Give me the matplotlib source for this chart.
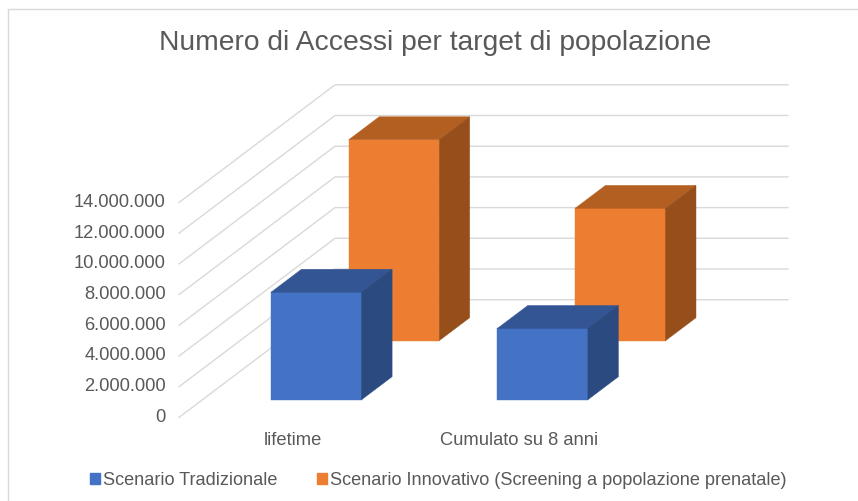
import matplotlib
matplotlib.use("Agg")
from matplotlib import pyplot as plt
from matplotlib.lines import Line2D
from matplotlib.patches import Polygon, Patch
from matplotlib.transforms import ScaledTranslation

categories = ["lifetime", "Cumulato su 8 anni"]
series_names = ["Scenario Tradizionale", "Scenario Innovativo (Screening a popolazione prenatale)"]
tradizionale = [7000000, 4640000]
innovativo = [13090000, 8620000]
ticks = [0, 2000000, 4000000, 6000000, 8000000, 10000000, 12000000, 14000000]

W, H = 858, 502
TOP_Y, BACK_Y, FRONT_Y = 85.7, 300.7, 418.4
LEFT, BACK_X, RIGHT = 179.0, 335.0, 788.0
PX_PER_VALUE = 30.7 / 2000000

plt.rcParams["font.family"] = ["Liberation Sans", "DejaVu Sans"]
GREY = "#595959"
GRID = "#D9D9D9"

fig = plt.figure(figsize=(W / 100, H / 100), dpi=100)
# chart frame, only top and left show in the crop
fig.add_artist(Line2D([7.5 / W, 7.5 / W, 1], [0, 1 - 9.5 / H, 1 - 9.5 / H], color=GRID, lw=1))

ax = fig.add_axes([LEFT / W, 1 - FRONT_Y / H, (RIGHT - LEFT) / W, (FRONT_Y - TOP_Y) / H])
ax.set_xlim(LEFT, RIGHT)
ax.set_ylim(0, (FRONT_Y - TOP_Y) / PX_PER_VALUE)
for s in ax.spines.values():
    s.set_visible(False)
ax.patch.set_visible(False)


def lift(px):
    return px / PX_PER_VALUE


# walls: diagonal on the side, straight on the back
depth_y = FRONT_Y - BACK_Y
for t in ticks:
    ax.plot([LEFT, BACK_X, RIGHT], [t, t + lift(depth_y), t + lift(depth_y)],
            color=GRID, lw=1, zorder=1, solid_joinstyle="miter", clip_on=False)


def draw_bar(x0, x1, base_px, value, front, top, side):
    d = 30.5
    dv = lift(23)
    b = lift(base_px)
    v = b + value
    ax.add_patch(Polygon([(x0, b), (x1, b), (x1, v), (x0, v)], color=front, lw=0.3, zorder=3))
    ax.add_patch(Polygon([(x0, v), (x1, v), (x1 + d, v + dv), (x0 + d, v + dv)], color=top, lw=0.3, zorder=3))
    ax.add_patch(Polygon([(x1, b), (x1 + d, b + dv), (x1 + d, v + dv), (x1, v)], color=side, lw=0.3, zorder=3))


# back row first so the front row covers it
orange_x = [348.7, 575.0]
blue_x = [271.0, 497.3]
for x, val in zip(orange_x, innovativo):
    draw_bar(x, x + 90.5, FRONT_Y - 341.7, val, "#ED7D31", "#B45F22", "#964F1B")
for x, val in zip(blue_x, tradizionale):
    draw_bar(x, x + 90.6, FRONT_Y - 400.7, val, "#4472C4", "#335593", "#2B4A80")

ax.set_yticks(ticks)
ax.set_yticklabels([f"{t:,}".replace(",", ".") for t in ticks], fontsize=13.2, color=GREY)
ax.set_xticks([293, 519])
ax.set_xticklabels(categories, fontsize=13.2, color=GREY)
ax.tick_params(axis="y", length=0, pad=9.5)
ax.tick_params(axis="x", length=0, pad=10)
up = ScaledTranslation(0, 3 / 100, fig.dpi_scale_trans)
for lab in ax.get_yticklabels():
    lab.set_transform(lab.get_transform() + up)

fig.text(435.5 / W, 1 - 43 / H, "Numero di Accessi per target di popolazione", fontsize=20.3,
         color=GREY, ha="center", va="center")

handles = [Patch(color="#4472C4"), Patch(color="#ED7D31")]
fig.legend(handles, series_names, loc="center", bbox_to_anchor=(438.5 / W, 1 - 481 / H), ncol=2, frameon=False,
           fontsize=13.05, labelcolor=GREY, handlelength=0.55, handleheight=0.55, handletextpad=0.15,
           columnspacing=2.2)

fig.savefig("out.png", dpi=100)
